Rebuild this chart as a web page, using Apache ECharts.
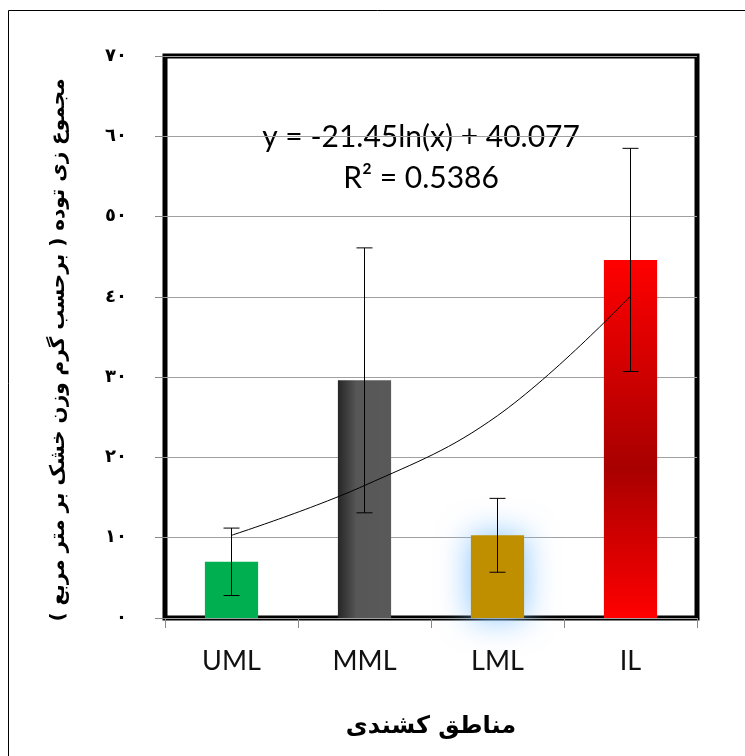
<!DOCTYPE html>
<html>
<head>
<meta charset="utf-8">
<script src="https://cdn.jsdelivr.net/npm/echarts@6/dist/echarts.min.js"></script>
<style>
html,body{margin:0;padding:0;background:#fff;}
#chart{width:745px;height:756px;}
</style>
</head>
<body>
<div id="chart"></div>
<script>
// ---- data ----
const categories = ['UML', 'MML', 'LML', 'IL'];
const means = [7.0, 29.6, 10.3, 44.6];
const errors = [4.2, 16.5, 4.6, 13.9];
const trend = [10.3, 16.5, 25.2, 40.1];
const yTickLabels = ['٠', '١٠', '٢٠', '٣٠', '٤٠', '٥٠', '٦٠', '٧٠'];
const yTitle = 'مجموع زی توده ( برحسب گرم وزن خشک بر متر مربع )';
const xTitle = 'مناطق کشندی';
const equationLines = ['y = -21.45ln(x) + 40.077', 'R² = 0.5386'];

const barStyles = [
  { color: '#00b050' },
  { color: { type: 'linear', x: 0, y: 0, x2: 1, y2: 0, colorStops: [
      { offset: 0, color: '#262626' }, { offset: 0.35, color: '#575757' }, { offset: 1, color: '#595959' }] } },
  { color: '#bf8f00', shadowBlur: 32, shadowColor: 'rgba(130,195,255,1)' },
  { color: { type: 'linear', x: 0, y: 0, x2: 0, y2: 1, colorStops: [
      { offset: 0, color: '#ff0000' }, { offset: 0.58, color: '#a80000' }, { offset: 1, color: '#ff0000' }] } }
];

const chart = echarts.init(document.getElementById('chart'), null, { renderer: 'canvas' });

const option = {
  backgroundColor: '#fff',
  animation: false,
  grid: {
    left: 165, right: 48, top: 56, bottom: 138,
    show: true, borderColor: '#000', borderWidth: 5, backgroundColor: 'transparent'
  },
  xAxis: {
    type: 'category',
    data: categories,
    axisLine: { show: false },
    axisTick: { show: true, length: 10, lineStyle: { color: '#888' } },
    axisLabel: { margin: 30, fontFamily: 'Lato', fontSize: 27, color: '#111' },
    name: xTitle,
    nameLocation: 'middle',
    nameGap: 97,
    nameTextStyle: { fontFamily: 'DejaVu Sans', fontWeight: 'bold', fontSize: 24, color: '#000' }
  },
  yAxis: {
    type: 'value',
    min: 0, max: 70, interval: 10,
    axisLine: { show: false },
    axisTick: { show: true, length: 10, lineStyle: { color: '#888' } },
    splitLine: { show: true, lineStyle: { color: '#a0a0a0', width: 1 } },
    axisLabel: {
      margin: 38,
      fontFamily: 'DejaVu Sans', fontWeight: 'bold', fontSize: 18, color: '#000',
      formatter: function (v) { return yTickLabels[Math.round(v / 10)]; }
    },
    name: yTitle,
    nameLocation: 'middle',
    nameRotate: 90,
    nameGap: 96,
    nameTextStyle: { fontFamily: 'DejaVu Sans', fontWeight: 'bold', fontSize: 20, color: '#000', padding: [0, 26, 0, 0] }
  },
  series: [
    {
      type: 'bar',
      barWidth: '40%',
      data: means.map(function (v, i) { return { value: v, itemStyle: barStyles[i] }; }),
      z: 2
    },
    {
      type: 'custom',
      z: 4,
      data: means.map(function (v, i) { return [i, v - errors[i], v + errors[i]]; }),
      renderItem: function (params, api) {
        const lo = api.coord([api.value(0), api.value(1)]);
        const hi = api.coord([api.value(0), api.value(2)]);
        const hw = 8;
        const style = { stroke: '#000', lineWidth: 1 };
        return {
          type: 'group',
          children: [
            { type: 'line', shape: { x1: lo[0], y1: lo[1], x2: hi[0], y2: hi[1] }, style: style },
            { type: 'line', shape: { x1: lo[0] - hw, y1: lo[1], x2: lo[0] + hw, y2: lo[1] }, style: style },
            { type: 'line', shape: { x1: hi[0] - hw, y1: hi[1], x2: hi[0] + hw, y2: hi[1] }, style: style }
          ]
        };
      }
    },
    {
      type: 'line',
      data: trend,
      smooth: 0.4,
      symbol: 'none',
      lineStyle: { color: '#000', width: 1 },
      z: 5
    }
  ],
  graphic: [
    { type: 'rect', shape: { x: 8.5, y: 10.5, width: 760, height: 760 }, style: { fill: 'none', stroke: '#000', lineWidth: 1 }, silent: true },
    { type: 'text', x: 421, y: 137, style: { text: equationLines[0], fontFamily: 'Lato', fontSize: 30, fill: '#000', textAlign: 'center', textVerticalAlign: 'middle' } },
    { type: 'text', x: 421, y: 178, style: { text: equationLines[1], fontFamily: 'Lato', fontSize: 30, fill: '#000', textAlign: 'center', textVerticalAlign: 'middle' } }
  ]
};
chart.setOption(option);
</script>
</body>
</html>
